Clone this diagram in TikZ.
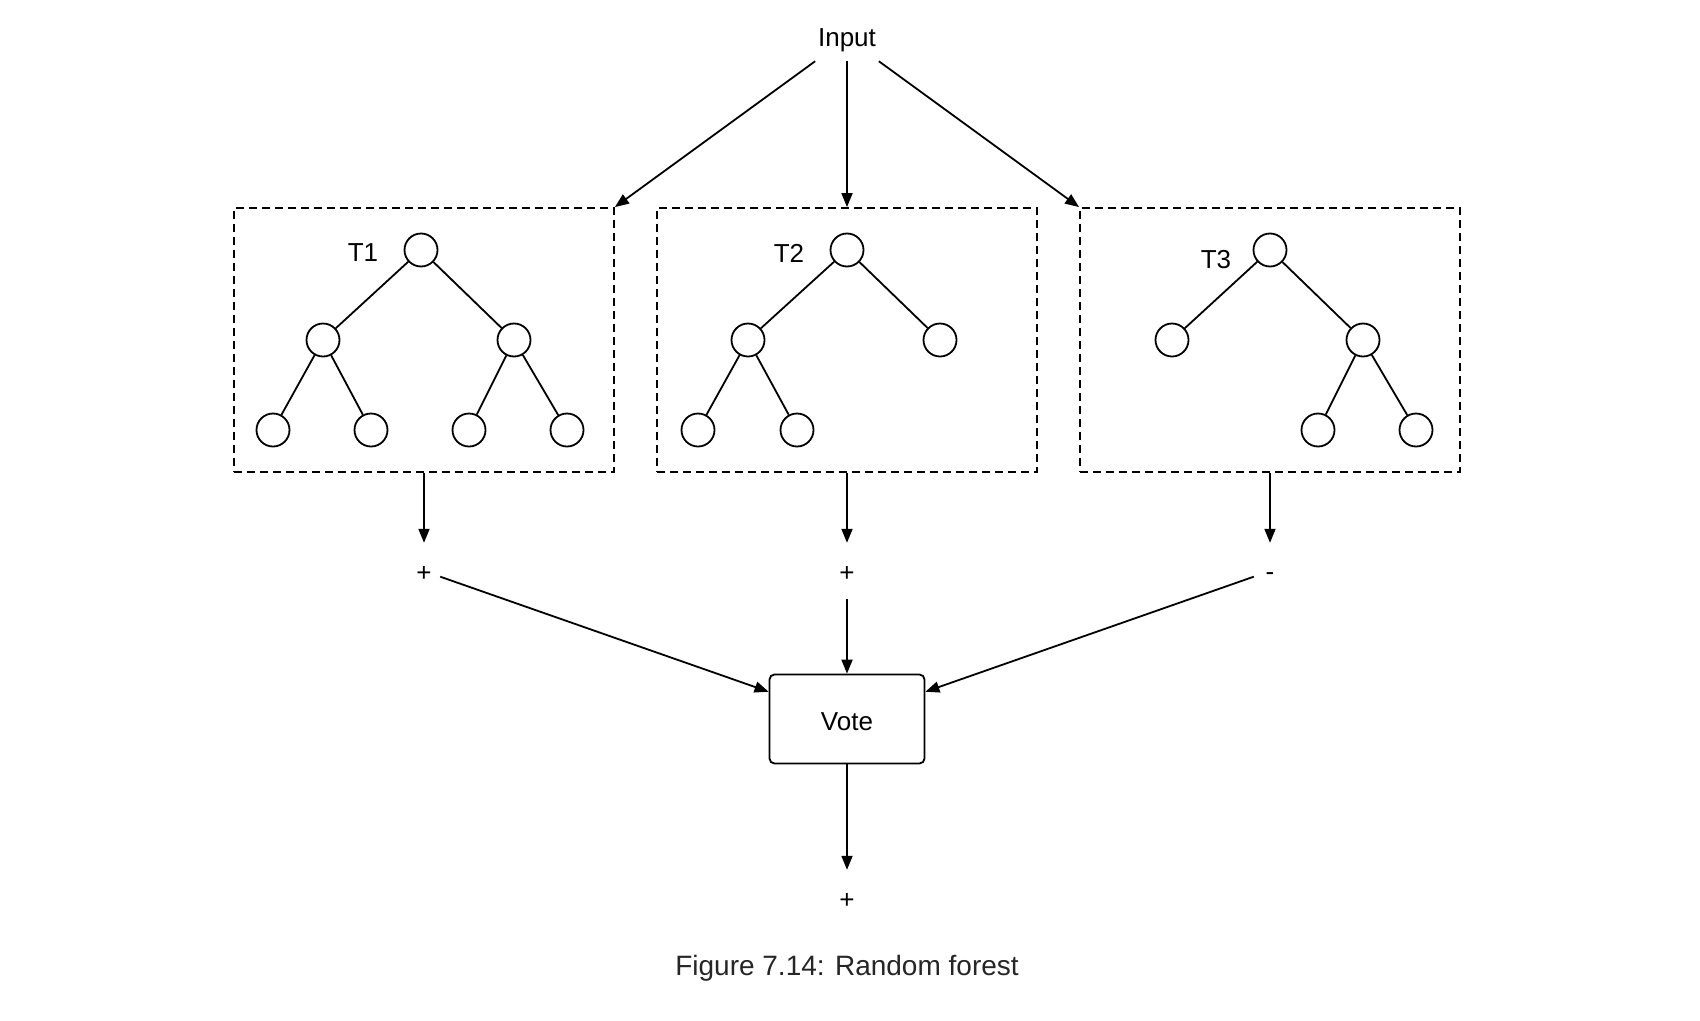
\documentclass[tikz,border=0pt]{standalone}
\usepackage{fontspec}
\setmainfont{Liberation Sans}
\usetikzlibrary{arrows.meta}
\newcommand{\lowerby}[2]{\raisebox{-#1}[\height][\depth]{#2}}
\begin{document}
\begin{tikzpicture}[x=1pt,y=-1pt,
  every node/.style={font=\fontsize{26}{30}\selectfont},
  tnode/.style={circle,draw,line width=1.8pt,minimum size=33pt,inner sep=0pt},
  tedge/.style={line width=1.8pt},
  treebox/.style={draw,line width=1.8pt,dash pattern=on 8pt off 5pt,minimum width=380pt,minimum height=264pt,inner sep=0pt},
  arr/.style={line width=1.8pt,-{Triangle[length=14pt,width=11pt]}},
  outlab/.style={minimum width=32pt,minimum height=56pt,inner sep=0pt},
  votebox/.style={draw,line width=1.8pt,rounded corners=5pt,minimum width=155pt,minimum height=89pt,inner sep=0pt}
]
\useasboundingbox (0,0) rectangle (1700,1020);
\fill[white] (0,0) rectangle (1700,1020);

\node[minimum width=80pt,minimum height=46pt,inner sep=0pt] (in) at (847,38) {\lowerby{2.5pt}{Input}};

% boxes
\node[treebox] (b1) at (424,340) {};
\node[treebox] (b2) at (847,340) {};
\node[treebox] (b3) at (1270,340) {};

% Tree 1
\node[tnode] (a0) at (421,250) {};
\node[tnode] (a1) at (323,340) {};
\node[tnode] (a2) at (514,340) {};
\node[tnode] (a3) at (273,430) {};
\node[tnode] (a4) at (371,430) {};
\node[tnode] (a5) at (469,430) {};
\node[tnode] (a6) at (567,430) {};
\node (t1) at (363,253) {T1};
\draw[tedge] (a0) -- (a1);
\draw[tedge] (a0) -- (a2);
\draw[tedge] (a1) -- (a3);
\draw[tedge] (a1) -- (a4);
\draw[tedge] (a2) -- (a5);
\draw[tedge] (a2) -- (a6);

% Tree 2
\node[tnode] (c0) at (847,250) {};
\node[tnode] (c1) at (748,340) {};
\node[tnode] (c2) at (940,340) {};
\node[tnode] (c3) at (698,430) {};
\node[tnode] (c4) at (797,430) {};
\node (t2) at (789,253) {T2};
\draw[tedge] (c0) -- (c1);
\draw[tedge] (c0) -- (c2);
\draw[tedge] (c1) -- (c3);
\draw[tedge] (c1) -- (c4);

% Tree 3
\node[tnode] (d0) at (1270,250) {};
\node[tnode] (d1) at (1172,340) {};
\node[tnode] (d2) at (1363,340) {};
\node[tnode] (d3) at (1318,430) {};
\node[tnode] (d4) at (1416,430) {};
\draw[tedge] (d0) -- (d1);
\draw[tedge] (d0) -- (d2);
\draw[tedge] (d2) -- (d3);
\draw[tedge] (d2) -- (d4);
\node (t3) at (1216,260) {T3};

% input arrows
\draw[arr] (in) -- (b1.north east);
\draw[arr] (in) -- (b2.north);
\draw[arr] (in) -- (b3.north west);

% outputs
\node[outlab] (p1) at (424,571) {\lowerby{2.5pt}{+}};
\node[outlab] (p2) at (847,571) {\lowerby{2.5pt}{+}};
\node[outlab] (p3) at (1270,571) {\lowerby{5.5pt}{-}};
\draw[arr] (b1.south) -- (p1);
\draw[arr] (b2.south) -- (p2);
\draw[arr] (b3.south) -- (p3);

\node[votebox] (vote) at (847,719) {\lowerby{2.5pt}{Vote}};
\draw[arr] (p1) -- (vote);
\draw[arr] (p2) -- (vote);
\draw[arr] (p3) -- (vote);

\node[outlab] (res) at (847,898) {\lowerby{2.5pt}{+}};
\draw[arr] (vote.south) -- (res);

\node[font=\fontsize{28}{32}\selectfont,text=black!85] (cap) at (847,968.5) {Figure 7.14: Random forest};
\end{tikzpicture}
\end{document}
